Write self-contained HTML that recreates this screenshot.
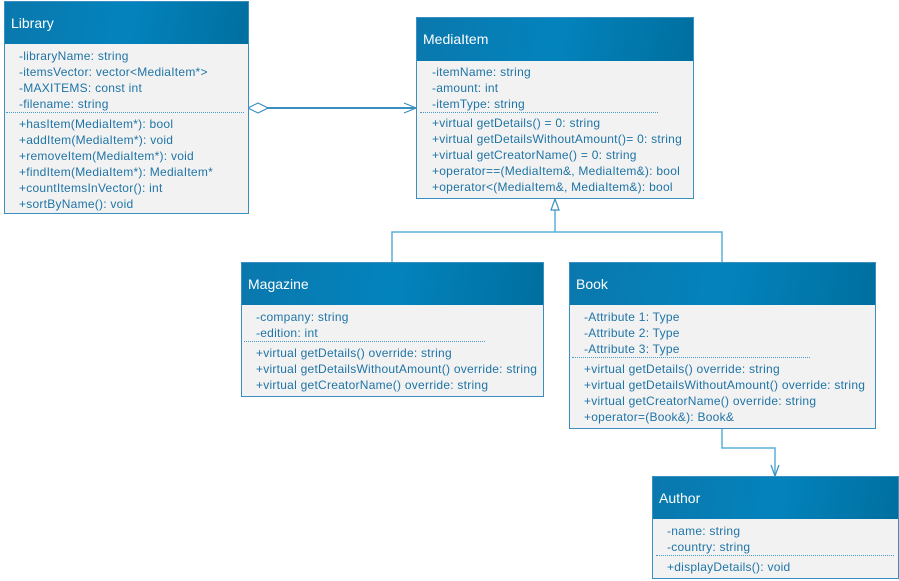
<!DOCTYPE html>
<html><head><style>
body{margin:0;width:899px;height:581px;background:#fff;position:relative;overflow:hidden;font-family:"Liberation Sans",sans-serif}
.b{position:absolute;border:1px solid #3a8fc0;background:#f2f2f2;box-sizing:border-box}
.h{position:absolute;left:0;top:0;right:0;background:linear-gradient(100deg,#0a78ad,#0383bd 50%,#006f9f);color:#fff;font-size:14px;padding-left:6px;box-sizing:border-box}
.t{position:absolute;font-size:12px;letter-spacing:0.25px;color:#1f74a6;white-space:nowrap;line-height:16px}
.s{position:absolute;height:0;border-top:1px dotted #4a9ac8}
</style></head><body>
<svg width="899" height="581" style="position:absolute;left:0;top:0" fill="none" stroke="#3a8fc0">
<line x1="262" y1="108" x2="416" y2="108" stroke-width="2"/>
<polygon points="248,108 258,103 268,108 258,113" fill="#fff" stroke-width="1.2"/>
<polyline points="404,103 416,108 404,113" stroke-width="1.2"/>
<polyline points="555,210 555,232" stroke="#5ab0d8" stroke-width="1.5"/>
<polyline points="392,262 392,232 722,232 722,262" stroke="#5ab0d8" stroke-width="1.5"/>
<polygon points="555,199 551,210 559,210" fill="#fff" stroke-width="1.2"/>
<polyline points="722,428 722,448 775,448 775,476" stroke="#5ab0d8" stroke-width="1.5"/>
<polyline points="771,465 775,476 779,465" stroke-width="1.2"/>
</svg>

<div class="b" style="left:4px;top:1px;width:245px;height:213px">
<div class="h" style="height:42px;line-height:42px">Library</div></div>
<div class="t" style="left:19px;top:48px">-libraryName: string<br>-itemsVector: vector&lt;MediaItem*&gt;<br>-MAXITEMS: const int<br>-filename: string</div>
<div class="s" style="left:6px;top:112px;width:238px"></div>
<div class="t" style="left:19px;top:116px">+hasItem(MediaItem*): bool<br>+addItem(MediaItem*): void<br>+removeItem(MediaItem*): void<br>+findItem(MediaItem*): MediaItem*<br>+countItemsInVector(): int<br>+sortByName(): void</div>

<div class="b" style="left:416px;top:17px;width:278px;height:182px">
<div class="h" style="height:43px;line-height:43px">MediaItem</div></div>
<div class="t" style="left:432px;top:64px">-itemName: string<br>-amount: int<br>-itemType: string</div>
<div class="s" style="left:420px;top:112px;width:238px"></div>
<div class="t" style="left:432px;top:115px">+virtual getDetails() = 0: string<br>+virtual getDetailsWithoutAmount()= 0: string<br>+virtual getCreatorName() = 0: string<br>+operator==(MediaItem&amp;, MediaItem&amp;): bool<br>+operator&lt;(MediaItem&amp;, MediaItem&amp;): bool</div>

<div class="b" style="left:241px;top:262px;width:303px;height:135px">
<div class="h" style="height:42px;line-height:42px">Magazine</div></div>
<div class="t" style="left:256px;top:309px">-company: string<br>-edition: int</div>
<div class="s" style="left:244px;top:341px;width:241px"></div>
<div class="t" style="left:256px;top:345px">+virtual getDetails() override: string<br>+virtual getDetailsWithoutAmount() override: string<br>+virtual getCreatorName() override: string</div>

<div class="b" style="left:569px;top:262px;width:307px;height:167px">
<div class="h" style="height:42px;line-height:42px">Book</div></div>
<div class="t" style="left:584px;top:309px">-Attribute 1: Type<br>-Attribute 2: Type<br>-Attribute 3: Type</div>
<div class="s" style="left:572px;top:357px;width:238px"></div>
<div class="t" style="left:584px;top:361px">+virtual getDetails() override: string<br>+virtual getDetailsWithoutAmount() override: string<br>+virtual getCreatorName() override: string<br>+operator=(Book&amp;): Book&amp;</div>

<div class="b" style="left:652px;top:476px;width:247px;height:103px">
<div class="h" style="height:42px;line-height:42px">Author</div></div>
<div class="t" style="left:667px;top:523px">-name: string<br>-country: string</div>
<div class="s" style="left:656px;top:555px;width:238px"></div>
<div class="t" style="left:667px;top:559px">+displayDetails(): void</div>
</body></html>
